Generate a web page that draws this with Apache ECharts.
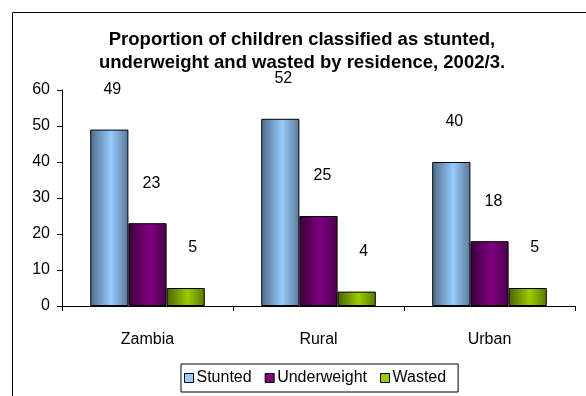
<!DOCTYPE html>
<html>
<head>
<meta charset="utf-8">
<script src="https://cdn.jsdelivr.net/npm/echarts@6/dist/echarts.min.js"></script>
<style>
html,body{margin:0;padding:0;background:#fff;}
#chart{width:586px;height:396px;}
</style>
</head>
<body>
<div id="chart"></div>
<script>
var categories = ['Zambia', 'Rural', 'Urban'];
var stunted = [49, 52, 40];
var underweight = [23, 25, 18];
var wasted = [5, 4, 5];
var seriesNames = ['Stunted', 'Underweight', 'Wasted'];
var titleText = 'Proportion of children classified as stunted,\nunderweight and wasted by residence, 2002/3.';

var FONT = '"Liberation Sans", Arial, sans-serif';

function grad(dark, light, dark2) {
  return new echarts.graphic.LinearGradient(0, 0, 1, 0, [
    {offset: 0, color: dark},
    {offset: 0.55, color: light},
    {offset: 1, color: dark2}
  ]);
}

var colors = [
  grad('#4d6a88', '#99ccff', '#5a7896'),
  grad('#3a003a', '#800080', '#4a004a'),
  grad('#4a6200', '#99cc00', '#5a7800')
];
var legendColors = ['#99ccff', '#800080', '#99cc00'];
var labelOffsets = [[3, 0], [4, 0], [7, 0]];
var values = [stunted, underweight, wasted];

var chart = echarts.init(document.getElementById('chart'), null, {renderer: 'canvas'});

var series = seriesNames.map(function (name, i) {
  return {
    name: name,
    type: 'bar',
    data: values[i],
    barGap: '0%',
    barCategoryGap: '33%',
    itemStyle: {color: colors[i], borderColor: '#000', borderWidth: 1},
    label: {
      show: true,
      position: 'top',
      distance: 32,
      offset: labelOffsets[i],
      color: '#000',
      fontFamily: FONT,
      fontSize: 16
    },
    emphasis: {disabled: true}
  };
});

chart.setOption({
  animation: false,
  backgroundColor: '#fff',
  graphic: [{
    type: 'rect',
    shape: {x: 12.5, y: 12.5, width: 700, height: 500},
    style: {fill: 'none', stroke: '#000', lineWidth: 1},
    silent: true
  }],
  title: {
    text: titleText,
    left: 297,
    textAlign: 'center',
    top: 23,
    textStyle: {
      fontFamily: FONT,
      fontWeight: 'bold',
      fontSize: 18.5,
      lineHeight: 23,
      color: '#000'
    }
  },
  legend: {
    data: seriesNames.map(function (n, i) {
      return {name: n, itemStyle: {color: legendColors[i], borderColor: '#000', borderWidth: 1}};
    }),
    left: 181,
    top: 364,
    icon: 'rect',
    itemWidth: 9,
    itemHeight: 9,
    itemGap: 13,
    padding: [6, 12, 6, 3],
    borderColor: '#000',
    borderWidth: 1,
    textStyle: {fontFamily: FONT, fontSize: 16, color: '#000', padding: [0, 0, 0, -2]}
  },
  grid: {left: 62, right: 11, top: 90, bottom: 90, containLabel: false},
  xAxis: {
    type: 'category',
    data: categories,
    axisLine: {lineStyle: {color: '#000', width: 1}},
    axisTick: {show: true, length: 5, inside: false, lineStyle: {color: '#000'}},
    axisLabel: {color: '#000', fontFamily: FONT, fontSize: 16, margin: 26},
    splitLine: {show: false}
  },
  yAxis: {
    type: 'value',
    min: 0,
    max: 60,
    interval: 10,
    axisLine: {show: true, lineStyle: {color: '#000', width: 1}},
    axisTick: {show: true, length: 5, lineStyle: {color: '#000'}},
    axisLabel: {color: '#000', fontFamily: FONT, fontSize: 16, margin: 12},
    splitLine: {show: false}
  },
  series: series
});
</script>
</body>
</html>
